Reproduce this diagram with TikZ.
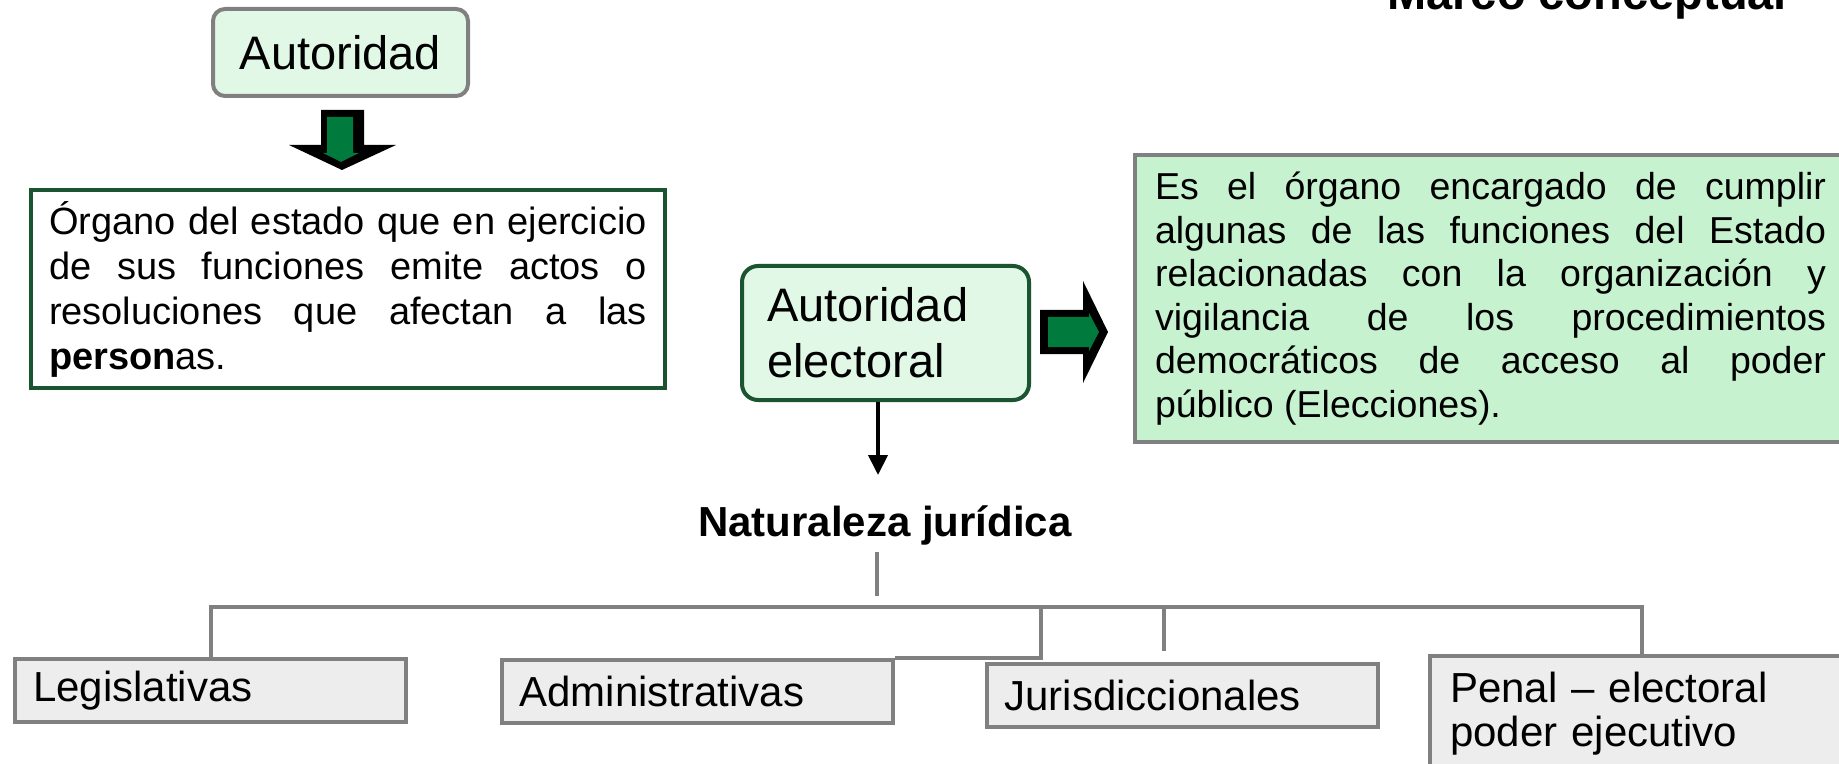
\documentclass[tikz,border=0pt]{standalone}
\usepackage{fontspec}
\setmainfont{Liberation Sans}
\usetikzlibrary{arrows.meta}
\definecolor{boxgray}{RGB}{128,128,128}
\definecolor{darkgreen}{RGB}{26,84,48}
\definecolor{palegreen}{RGB}{226,248,231}
\definecolor{mintgreen}{RGB}{198,242,208}
\definecolor{arrowgreen}{RGB}{0,122,61}
\definecolor{kindfill}{RGB}{237,237,237}
\newcommand{\fulllines}{\parfillskip=0pt\spaceskip=.278em plus 10em\tolerance=10000\hyphenpenalty=10000\relax}
\tikzset{>={Triangle[length=10pt,width=9.5pt]},
  roundbox/.style={draw=boxgray, line width=2pt, fill=palegreen, rounded corners=6pt, inner sep=0pt},
  textbox/.style={draw=darkgreen, line width=2pt, fill=white, inner ysep=0pt, align=justify},
  kindbox/.style={draw=boxgray, line width=2pt, fill=kindfill, minimum width=195.5pt, minimum height=31.5pt,
    inner xsep=9pt, inner ysep=0pt, text width=177.5pt, align=left, font=\fontsize{21}{22}\selectfont},
  bus/.style={draw=boxgray, line width=2pt}}

\begin{document}
\begin{tikzpicture}[x=0.5pt, y=-0.5pt]
    \useasboundingbox (0,0) rectangle (1839,764);
    \fill[white] (0,0) rectangle (1839,764);
    \node[anchor=base west, inner sep=0pt, font=\fontsize{23.5}{28}\selectfont\bfseries] (title) at (1387,10) {Marco conceptual};

    \node[roundbox, minimum width=127.5pt, minimum height=43.5pt, font=\fontsize{23.5}{28}\selectfont] (aut) at (340.5,52.5) {Autoridad};
    \fill (321,110) -- (364,110) -- (364,145) -- (396,145) -- (342,170) -- (289,145) -- (321,145) -- cycle;
    \fill[arrowgreen] (327,117) -- (353,117) -- (353,153) -- (359,153) -- (341,162) -- (323,153) -- (327,153) -- cycle;

    \node[textbox, minimum width=317pt, minimum height=99pt, inner xsep=9pt, text width=299pt,
      font=\fontsize{19}{22.5}\selectfont] (org) at (348,289) {%
      {\fulllines Órgano del estado que en ejercicio\par
      de sus funciones emite actos o\par
      resoluciones que afectan a las\par}%
      \textbf{person}as.};

    \node[roundbox, draw=darkgreen, rounded corners=8pt, minimum height=67pt, inner xsep=12.5pt, text width=118.5pt,
      align=left, font=\fontsize{23.5}{28}\selectfont] (ae) at (885.5,333) {Autoridad\\electoral};
    \fill (1040,310) -- (1083,310) -- (1083,281) -- (1108,332) -- (1083,383) -- (1083,354) -- (1040,354) -- cycle;
    \fill[arrowgreen] (1048,317) -- (1089,317) -- (1089,313) -- (1099,332) -- (1089,351) -- (1089,347) -- (1048,347) -- cycle;

    \node[draw=boxgray, line width=2pt, fill=mintgreen, minimum height=143.5pt, inner xsep=10pt, inner ysep=0pt,
      text width=335.5pt, align=justify, font=\fontsize{18.75}{21.8}\selectfont] (def) at (1490.5,298.5) {%
      {\fulllines Es el órgano encargado de cumplir\par
      algunas de las funciones del Estado\par
      relacionadas con la organización y\par
      vigilancia de los procedimientos\par
      democráticos de acceso al poder\par}%
      público (Elecciones).};

    \coordinate (natin) at (878,475);
    \draw[line width=2pt, ->] (ae.south -| natin) -- (natin);
    \node[anchor=base, inner sep=0pt, font=\fontsize{21}{25}\selectfont\bfseries] (nat) at (885,536) {Naturaleza jurídica};

    \node[kindbox] (legis) at (210.5,690.5) {Legislativas};
    \node[kindbox] (admin) at (697,691.5) {Administrativas};
    \node[kindbox] (juris) at (1182,695) {Jurisdiccionales};
    \node[kindbox, minimum width=250pt, minimum height=58pt, inner xsep=10pt, text width=230pt,
      font=\fontsize{21}{22}\selectfont] (penal) at (1680,714) {Penal -- electoral\\poder ejecutivo};

    \coordinate (natout) at (877,596);
    \coordinate (busA) at (1041,607);
    \coordinate (busJ) at (1164,607);
    \coordinate (busR) at (1642,607);
    \draw[bus] ([yshift=-3.5pt]nat.south -| natout) -- (natout);
    \draw[bus] (legis.north) |- (busR) -- (busR |- penal.north);
    \draw[bus] (admin.north east) -| (busA);
    \draw[bus] (busJ) -- ([yshift=5.5pt]juris.north -| busJ);
\end{tikzpicture}
\end{document}
